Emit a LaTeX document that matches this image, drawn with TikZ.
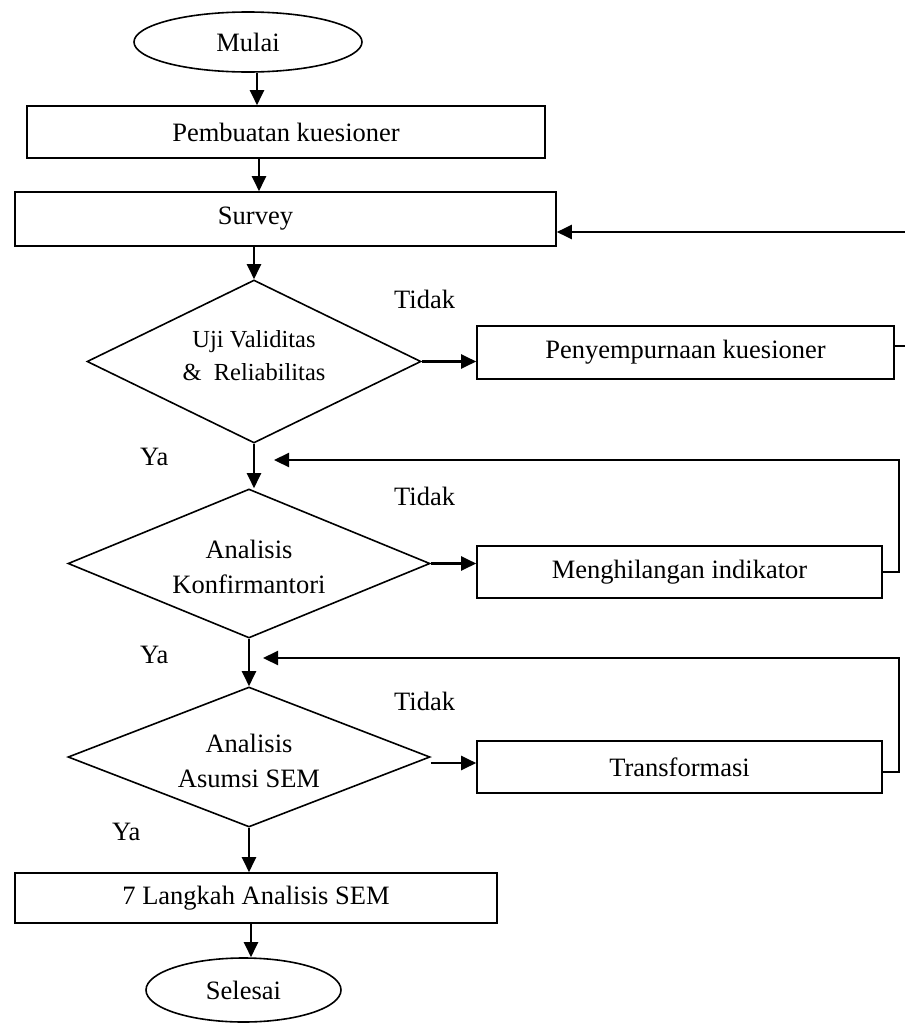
\documentclass[tikz,border=0pt]{standalone}
\usepackage{fontspec}
\setmainfont{Liberation Serif}
\usetikzlibrary{shapes.geometric,arrows.meta}
\newcommand\fsz{\fontsize{26.5pt}{35pt}\selectfont}
\newcommand\fsm{\fontsize{24.5pt}{33pt}\selectfont}
\begin{document}
\begin{tikzpicture}[x=1pt,y=-1pt,
  shp/.style={draw, line width=1.6pt, inner sep=0pt, font=\fsz, align=center},
  box/.style={shp, rectangle},
  oval/.style={shp, ellipse},
  dia/.style={shp, diamond},
  arr/.style={line width=2.2pt, -{Triangle[length=15pt,width=14pt]}},
  lbl/.style={font=\fsz, inner sep=0pt, anchor=base west}]
\useasboundingbox (0,0) rectangle (905,1023);
\clip (0,0) rectangle (905,1023);

% nodes
\node[oval, minimum width=228pt, minimum height=60pt] (mulai) at (248,42) {Mulai};
\node[box, minimum width=518pt, minimum height=52pt] (pemb) at (286,132) {Pembuatan kuesioner};
\node[box, minimum width=541pt, minimum height=54pt,
      label={[font=\fsz, xshift=-30pt]center:Survey}] (survey) at (285.5,219) {};
\node[dia, minimum width=334pt, minimum height=163pt,
      label={[font=\fsm, align=center, yshift=5.5pt]center:{Uji Validitas\\\& \ Reliabilitas}}] (d1) at (254,361.5) {};
\node[box, minimum width=417pt, minimum height=53pt] (peny) at (685.5,352.5) {Penyempurnaan kuesioner};
\node[dia, minimum width=362pt, minimum height=149pt,
      label={[font=\fsz, align=center, yshift=-3.5pt]center:{Analisis\\Konfirmantori}}] (d2) at (249,563.5) {};
\node[box, minimum width=405pt, minimum height=52pt] (meng) at (679.5,572) {Menghilangan indikator};
\node[dia, minimum width=362pt, minimum height=140pt,
      label={[font=\fsz, align=center, yshift=-4pt]center:{Analisis\\Asumsi SEM}}] (d3) at (249,757) {};
\node[box, minimum width=405pt, minimum height=52pt] (trans) at (679.5,767) {Transformasi};
\node[box, minimum width=482pt, minimum height=50pt] (langkah) at (256,898) {7 Langkah Analisis SEM};
\node[oval, minimum width=195pt, minimum height=64pt] (selesai) at (243.5,990) {Selesai};

% labels
\node[lbl] (t1) at (394,308) {Tidak};
\node[lbl] (t2) at (394,505) {Tidak};
\node[lbl] (t3) at (394,710) {Tidak};
\node[lbl] (y1) at (140,465) {Ya};
\node[lbl] (y2) at (140,663) {Ya};
\node[lbl] (y3) at (112,840) {Ya};

% helper coordinates
\coordinate (j1) at (274,460);
\coordinate (j2) at (263,658);
\coordinate (r1) at (930,0);
\coordinate (r2) at (899,0);

% main flow
\draw[arr] ([xshift=9pt]mulai.south) -- ([xshift=9pt]mulai.south |- pemb.north);
\draw[arr] ([xshift=-27pt]pemb.south) -- ([xshift=-27pt]pemb.south |- survey.north);
\draw[arr] (d1.north |- survey.south) -- (d1.north);
\draw[arr] (d1.south) -- (d1.south |- d2.north);
\draw[arr] (d2.south) -- (d3.north);
\draw[arr] (d3.south) -- (d3.south |- langkah.north);
\draw[arr] ([xshift=2pt]d3.south |- langkah.south) -- ([xshift=2pt]d3.south |- selesai.north);

% Tidak branches
\draw[arr] (d1.east) -- (d1.east -| peny.west);
\draw[arr] (d2.east) -- (d2.east -| meng.west);
\draw[arr] ([yshift=-6pt]d3.east) -- ([yshift=-6pt]d3.east -| trans.west);

% loops back
\draw[arr] ([yshift=6.5pt]peny.east) -- ([yshift=6.5pt]peny.east -| r1) |- ([yshift=-13pt]survey.east);
\draw[arr] (meng.east) -- (meng.east -| r2) |- (j1);
\draw[arr] ([yshift=-5pt]trans.east) -- ([yshift=-5pt]trans.east -| r2) |- (j2);
\end{tikzpicture}
\end{document}
